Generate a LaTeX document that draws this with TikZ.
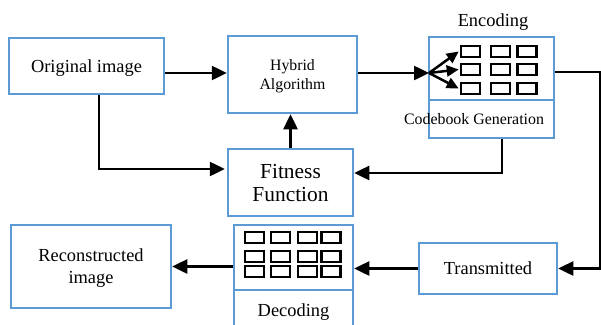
\documentclass[tikz,border=0pt]{standalone}
\usepackage{fontspec}
\setmainfont{Liberation Serif}
\usetikzlibrary{arrows.meta}
\definecolor{boxblue}{RGB}{91,155,213}
\begin{document}
\begin{tikzpicture}[x=1pt,y=-1pt,
  blk/.style={draw=boxblue,line width=2.5pt,inner sep=0pt,align=center,text depth=0pt},
  conn/.style={line width=2.5pt,-{Triangle[length=15pt,width=14pt]}},
  fanarrow/.style={line width=2.5pt,-{Triangle[length=12pt,width=11pt]}},
  cell/.style={draw=black,line width=2.6pt,minimum width=19pt,minimum height=11pt,inner sep=0pt},
  mainfont/.style={font=\fontsize{18.4}{22}\selectfont},
  ]
\useasboundingbox (0,0) rectangle (601,324);
\clip (0,0) rectangle (601,324);

% boxes
\node[blk,mainfont,minimum width=155pt,minimum height=56pt] (orig) at (86.5,66) {Original image};
\node[blk,font=\fontsize{15.8}{19}\selectfont,minimum width=129pt,minimum height=77pt] (hyb) at (292.5,74.5) {Hybrid\\Algorithm};
\node[blk,font=\fontsize{21.4}{23}\selectfont,minimum width=125pt,minimum height=67pt] (fit) at (290.5,182.5) {Fitness\\Function};
\node[blk,minimum width=125pt,minimum height=63pt] (enc) at (491.5,68.5) {};
\node[blk,minimum width=125pt,minimum height=38pt] (cbg) at (491.5,119) {};
\node[font=\fontsize{15.9}{19}\selectfont,inner sep=0pt,text depth=0pt] (cbgtext) at (474,119) {Codebook Generation};
\node[mainfont,inner sep=0pt,text depth=0pt] (enclab) at (493,20) {Encoding};
\node[blk,mainfont,minimum width=160pt,minimum height=83pt] (rec) at (91,266.5) {Reconstructed\\image};
\node[blk,minimum width=119pt,minimum height=65pt] (dec) at (293.5,257.5) {};
\node[blk,mainfont,minimum width=119pt,minimum height=40pt] (decl) at (293.5,310) {Decoding};
\node[blk,mainfont,minimum width=138pt,minimum height=51pt] (trn) at (488,268.5) {Transmitted};

% encoding cells
\node[cell] (e11) at (470.5,51.5) {};
\node[cell] (e12) at (500.5,51.5) {};
\node[cell] (e13) at (527,51.5) {};
\node[cell] (e21) at (470.5,69.5) {};
\node[cell] (e22) at (500.5,69.5) {};
\node[cell] (e23) at (527,69.5) {};
\node[cell] (e31) at (470.5,88.5) {};
\node[cell] (e32) at (500.5,88.5) {};
\node[cell] (e33) at (527,88.5) {};

% decoding cells
\foreach \r/\y in {1/237.5,2/256.5,3/271.5}{
  \foreach \c/\x in {1/254.5,2/280.5,3/307.5,4/331}{
    \node[cell] (d\r\c) at (\x,\y) {};
  }
}

% connectors
\coordinate (fanpt) at (429,73);
\coordinate (rc) at (600,72);
\draw[conn] (orig.east |- fanpt) -- (hyb.west |- fanpt);
\draw[conn] (hyb.east |- fanpt) -- (fanpt);
\draw[fanarrow] (fanpt) -- ([xshift=-1pt]e11.west);
\draw[fanarrow] (fanpt) -- ([xshift=-1pt]e21.west);
\draw[fanarrow] (fanpt) -- ([xshift=-1pt]e31.west);
\draw[conn] ([xshift=12.5pt]orig.south) |- ([yshift=13.5pt,xshift=-2pt]fit.west);
\draw[conn] (fit.north) -- (fit.north |- hyb.south);
\draw[conn] (enc.east |- rc) -- (rc) |- (trn.east);
\draw[conn] ([xshift=10.5pt]cbg.south) |- ([yshift=9.5pt]fit.east);
\draw[conn] (trn.west) -- (trn.west -| dec.east);
\draw[conn] (dec.west |- rec.east) -- (rec.east);
\end{tikzpicture}
\end{document}
